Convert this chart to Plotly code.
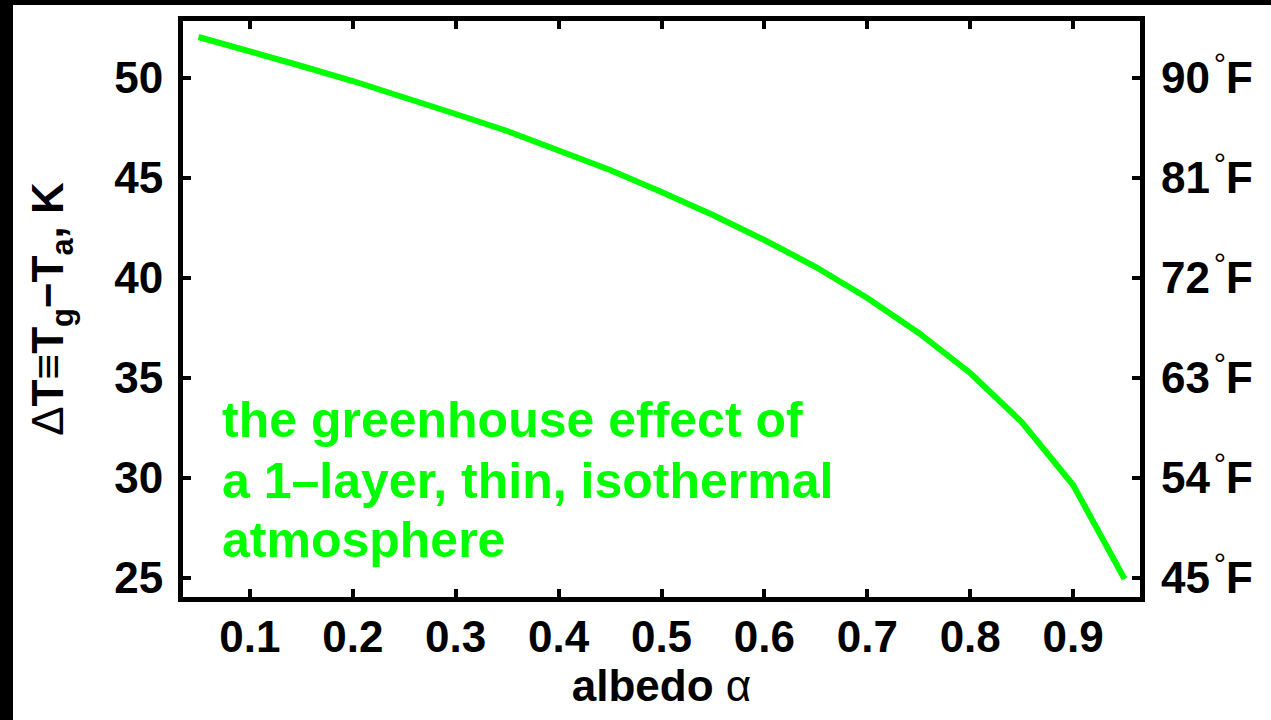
import plotly.graph_objects as go

# Albedo values and the resulting surface-minus-atmosphere temperature difference (K)
albedo = [0.05, 0.10, 0.15, 0.20, 0.25, 0.30, 0.35, 0.40, 0.45, 0.50,
          0.55, 0.60, 0.65, 0.70, 0.75, 0.80, 0.85, 0.90, 0.95]
delta_t = [52.05, 51.35, 50.60, 49.85, 49.05, 48.20, 47.35, 46.40, 45.40, 44.30,
           43.15, 41.90, 40.55, 39.00, 37.25, 35.25, 32.80, 29.65, 24.95]

x_ticks = [0.1, 0.2, 0.3, 0.4, 0.5, 0.6, 0.7, 0.8, 0.9]
k_ticks = [25, 30, 35, 40, 45, 50]
f_labels = ["45", "54", "63", "72", "81", "90"]
note_lines = ["the greenhouse effect of",
              "a 1\u2013layer, thin, isothermal",
              "atmosphere"]

W, H = 1271, 720
ML, MR, MT, MB = 183, 131, 21, 123
PW, PH = W - ML - MR, H - MT - MB

FONT = "Liberation Sans, Arial, Helvetica, sans-serif"
GREEN = "#00ff00"
YR = [24.05, 52.85]

fig = go.Figure()
fig.add_trace(go.Scatter(x=albedo, y=delta_t, mode="lines",
                         line=dict(color=GREEN, width=6),
                         showlegend=False, hoverinfo="skip"))
# companion trace so the Fahrenheit axis on the right is instantiated
fig.add_trace(go.Scatter(x=albedo, y=delta_t, mode="none", yaxis="y2",
                         showlegend=False, hoverinfo="skip"))

axis_common = dict(showline=True, linewidth=5, linecolor="black",
                   ticks="inside", ticklen=8, tickwidth=4, tickcolor="black",
                   mirror="ticks", showgrid=False, zeroline=False,
                   tickfont=dict(family=FONT, size=44, color="black", weight="bold"))

f_text = [f"{v}\u200a<span style='font-weight:normal'><sup>\u00b0</sup></span>F" for v in f_labels]

fig.update_layout(
    width=W, height=H,
    margin=dict(l=ML, r=MR, t=MT, b=MB, autoexpand=False),
    paper_bgcolor="white", plot_bgcolor="white",
    xaxis=dict(range=[0.035, 0.965], tickvals=x_ticks,
               ticktext=[f"{v:.1f}" for v in x_ticks],
               ticklabelstandoff=-3,
               title=dict(text="<b>albedo</b> \u03b1", standoff=9,
                          font=dict(family=FONT, size=44, color="black")),
               **axis_common),
    yaxis=dict(range=YR, tickvals=k_ticks, ticktext=[str(v) for v in k_ticks],
               ticklabelstandoff=6,
               title=dict(text="\u0394<b>T</b>\u2261<b>T<sub>g</sub>\u2212T<sub>a</sub>, K</b>",
                          standoff=38,
                          font=dict(family=FONT, size=44, color="black")),
               **axis_common),
    yaxis2=dict(range=YR, overlaying="y", side="right", tickvals=k_ticks,
                ticktext=f_text, ticks="", showline=False, showgrid=False,
                zeroline=False, ticklabelstandoff=20,
                tickfont=dict(family=FONT, size=44, color="black", weight="bold")),
)

# dark frame strips along the left and top edges of the page
fig.add_shape(type="rect", xref="paper", yref="paper", layer="above",
              x0=-ML / PW, x1=(13 - ML) / PW, y0=-MB / PH, y1=1 + MT / PH,
              fillcolor="black", line_width=0)
fig.add_shape(type="rect", xref="paper", yref="paper", layer="above",
              x0=-ML / PW, x1=1 + MR / PW, y0=1 + (MT - 5) / PH, y1=1 + MT / PH,
              fillcolor="black", line_width=0)

# multi-line note inside the plot
line_centers = [420, 481, 540]
for txt, yc in zip(note_lines, line_centers):
    fig.add_annotation(text=txt, xref="paper", yref="paper",
                       x=(220 - ML) / PW, y=1 - (yc - MT) / PH,
                       xanchor="left", yanchor="middle", showarrow=False,
                       font=dict(family=FONT, size=50, color=GREEN, weight="bold"))

fig.write_html("out.html")
